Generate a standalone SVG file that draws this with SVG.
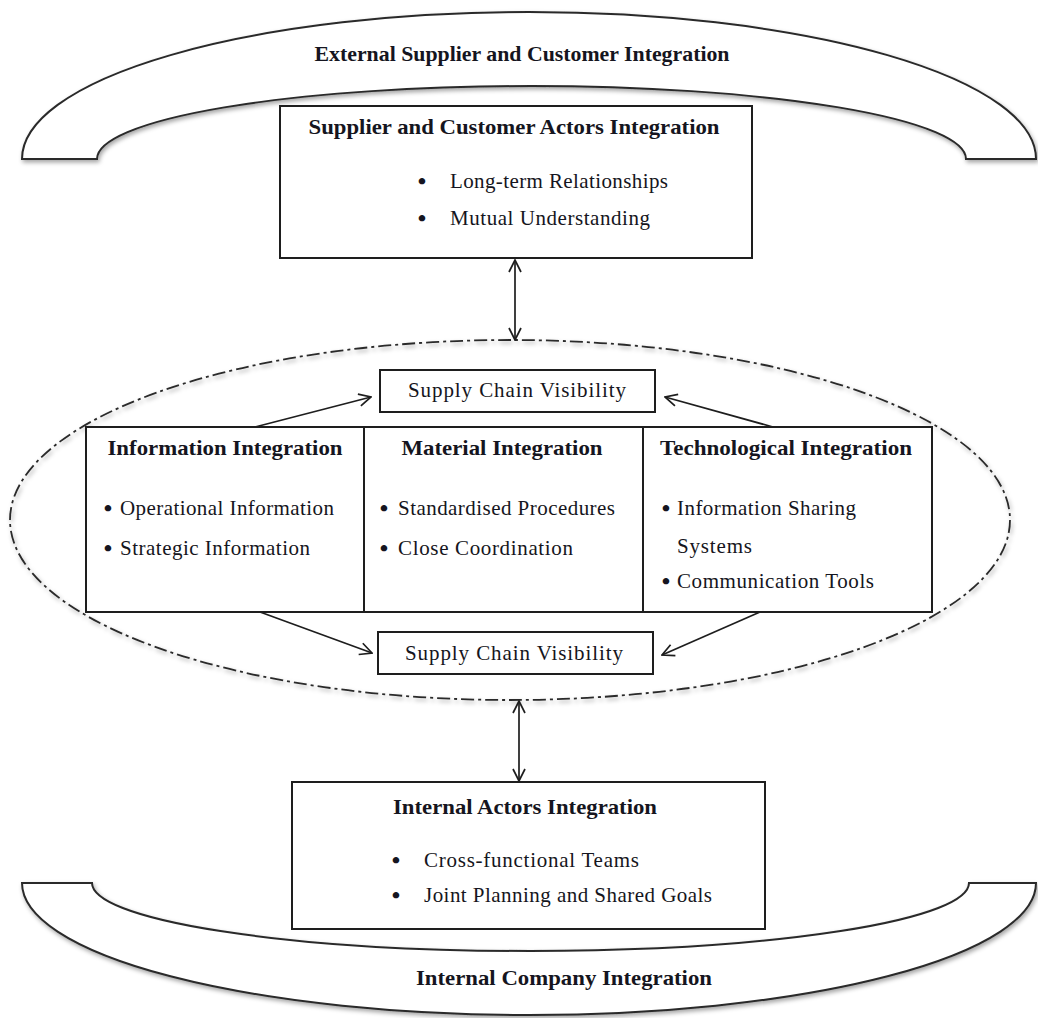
<svg xmlns="http://www.w3.org/2000/svg" width="1038" height="1018" viewBox="0 0 1038 1018">
  <style>
    .bg { fill: #ffffff; }
    .arch { fill: #ffffff; stroke: #2a2a2a; stroke-width: 2; }
    .box { fill: #ffffff; stroke: #1e1e1e; stroke-width: 2; }
    .oval { fill: none; stroke: #2a2a2a; stroke-width: 1.8; stroke-dasharray: 13 4 3 4; }
    .conn { fill: none; stroke: #1e1e1e; stroke-width: 1.7; }
    text { font-family: "Liberation Serif", "Times New Roman", serif; font-size: 21px; fill: #151520; }
    .title { font-weight: bold; }
    .mid { text-anchor: middle; }
    .dot { text-anchor: middle; font-weight: bold; font-size: 24px; }
  </style>
  <defs>
    <filter id="soft" x="-5%" y="-5%" width="110%" height="115%">
      <feDropShadow dx="1.5" dy="2.5" stdDeviation="2" flood-color="#000" flood-opacity="0.35"/>
    </filter>
    <marker id="vhead" viewBox="0 0 14 14" refX="13" refY="7" markerWidth="14" markerHeight="14" markerUnits="userSpaceOnUse" orient="auto-start-reverse">
      <path d="M1,1 L13,7 L1,13" fill="none" stroke="#1e1e1e" stroke-width="1.7"/>
    </marker>
  </defs>

  <rect class="bg" x="0" y="0" width="1038" height="1018"/>

  <!-- outer bands -->
  <g id="external-band">
    <path class="arch" filter="url(#soft)" d="M22,159 A507,147 0 0 1 1036,159 L966,159 A434.5,73 0 0 0 97,159 Z"/>
    <text class="title mid" x="522" y="61" textLength="415" lengthAdjust="spacingAndGlyphs">External Supplier and Customer Integration</text>
  </g>

  <g id="internal-band">
    <path class="arch" filter="url(#soft)" d="M22,883 L92,883 A438.5,68 0 0 0 969,883 L1036,883 A507,132 0 0 1 22,883 Z"/>
    <text class="title mid" x="564" y="985" textLength="296" lengthAdjust="spacingAndGlyphs">Internal Company Integration</text>
  </g>

  <!-- dash-dot boundary of the integration core -->
  <g id="core-boundary">
    <ellipse class="oval" filter="url(#soft)" cx="510" cy="520" rx="500" ry="180"/>
  </g>

  <g id="supplier-customer-actors">
    <rect class="box" x="280" y="106" width="472" height="152"/>
    <text class="title mid" x="514" y="134" textLength="411" lengthAdjust="spacingAndGlyphs">Supplier and Customer Actors Integration</text>
    <text class="dot" x="422" y="189">•</text>
    <text x="450" y="188" textLength="218">Long-term Relationships</text>
    <text class="dot" x="422" y="226">•</text>
    <text x="450" y="225" textLength="200">Mutual Understanding</text>
  </g>

  <g id="visibility-top">
    <rect class="box" x="380" y="370" width="275" height="42"/>
    <text class="mid" x="517" y="397" textLength="218">Supply Chain Visibility</text>
  </g>

  <g id="information-integration">
    <rect class="box" x="86" y="427" width="278" height="185"/>
    <text class="title mid" x="225" y="455" textLength="235" lengthAdjust="spacingAndGlyphs">Information Integration</text>
    <text class="dot" x="108" y="516">•</text>
    <text x="120" y="515" textLength="214">Operational Information</text>
    <text class="dot" x="108" y="556">•</text>
    <text x="120" y="555" textLength="190">Strategic Information</text>
  </g>

  <g id="material-integration">
    <rect class="box" x="364" y="427" width="279" height="185"/>
    <text class="title mid" x="502" y="455" textLength="201" lengthAdjust="spacingAndGlyphs">Material Integration</text>
    <text class="dot" x="384" y="516">•</text>
    <text x="398" y="515" textLength="217">Standardised Procedures</text>
    <text class="dot" x="384" y="556">•</text>
    <text x="398" y="555" textLength="175">Close Coordination</text>
  </g>

  <g id="technological-integration">
    <rect class="box" x="643" y="427" width="289" height="185"/>
    <text class="title mid" x="786" y="455" textLength="252" lengthAdjust="spacingAndGlyphs">Technological Integration</text>
    <text class="dot" x="666" y="516">•</text>
    <text x="677" y="515" textLength="179">Information Sharing</text>
    <text x="677" y="553" textLength="75">Systems</text>
    <text class="dot" x="666" y="589">•</text>
    <text x="677" y="588" textLength="197">Communication Tools</text>
  </g>

  <g id="visibility-bottom">
    <rect class="box" x="378" y="632" width="275" height="42"/>
    <text class="mid" x="514" y="660" textLength="218">Supply Chain Visibility</text>
  </g>

  <g id="internal-actors">
    <rect class="box" x="292" y="782" width="473" height="147"/>
    <text class="title mid" x="525" y="814" textLength="264" lengthAdjust="spacingAndGlyphs">Internal Actors Integration</text>
    <text class="dot" x="396" y="868">•</text>
    <text x="424" y="867" textLength="215">Cross-functional Teams</text>
    <text class="dot" x="396" y="903">•</text>
    <text x="424" y="902" textLength="288">Joint Planning and Shared Goals</text>
  </g>

  <!-- connectors -->
  <g id="connectors">
    <line class="conn" x1="515" y1="260" x2="515" y2="340" marker-start="url(#vhead)" marker-end="url(#vhead)"/>
    <line class="conn" x1="519" y1="701" x2="519" y2="781" marker-start="url(#vhead)" marker-end="url(#vhead)"/>
    <line class="conn" x1="255" y1="427" x2="371" y2="397" marker-end="url(#vhead)"/>
    <line class="conn" x1="773" y1="427" x2="665" y2="397" marker-end="url(#vhead)"/>
    <line class="conn" x1="260" y1="612" x2="372" y2="653" marker-end="url(#vhead)"/>
    <line class="conn" x1="760" y1="612" x2="662" y2="655" marker-end="url(#vhead)"/>
  </g>
</svg>
